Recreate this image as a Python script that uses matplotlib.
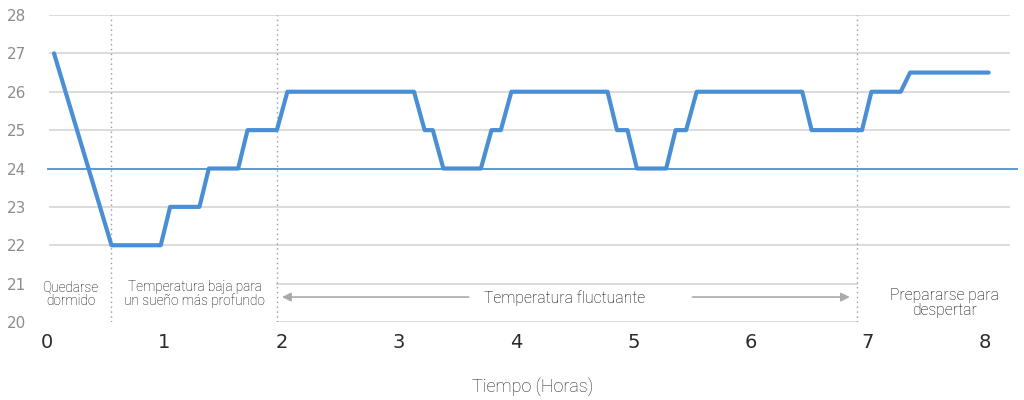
import matplotlib
matplotlib.use("Agg")
from matplotlib import pyplot as plt

# temperature profile (hours, degrees C)
horas = [0.06, 0.55, 0.97, 1.05, 1.30, 1.38, 1.63, 1.71, 1.96, 2.05,
         3.13, 3.22, 3.29, 3.38, 3.70, 3.79, 3.87, 3.96,
         4.78, 4.86, 4.95, 5.03, 5.28, 5.36, 5.45, 5.54,
         6.44, 6.52, 6.95, 7.03, 7.28, 7.36, 8.03]
temp = [27, 22, 22, 23, 23, 24, 24, 25, 25, 26,
        26, 25, 25, 24, 24, 25, 25, 26,
        26, 25, 25, 24, 24, 25, 25, 26,
        26, 25, 25, 26, 26, 26.5, 26.5]

referencia = 24
separadores = [0.55, 1.96, 6.91]
yticks = [20, 21, 22, 23, 24, 25, 26, 27, 28]
xticks = [0, 1, 2, 3, 4, 5, 6, 7, 8]
fases = ["Quedarse\ndormido", "Temperatura baja para\nun sueño más profundo",
         "Temperatura fluctuante", "Prepararse para\ndespertar"]
fase_x = [0.20, 1.26, 4.41, 7.65]

fig = plt.figure(figsize=(10.24, 4), dpi=100)
ax = fig.add_axes([47 / 1024, 1 - 322 / 400, (1018 - 47) / 1024, 307 / 400])
x0, x1 = 0.026, 8.28
ax.set_xlim(x0, x1)
ax.set_ylim(20, 28)

gris = "#d9d9d9"
for y in yticks:
    if y >= 22:
        ax.plot([x0, 8.2], [y, y], color=gris, lw=1.3, zorder=1)
    else:
        ax.plot([separadores[1], separadores[2]], [y, y], color=gris, lw=1.3, zorder=1)

for s in separadores:
    ax.axvline(s, color="#999999", lw=1, ls=(0, (1, 2.5)), zorder=1)

ax.axhline(referencia, color="#5b9bd5", lw=1.4, zorder=2)
ax.plot(horas, temp, color="#4a8fd4", lw=3, solid_joinstyle="round",
        solid_capstyle="round", zorder=3)

txt = dict(family=["Roboto", "DejaVu Sans"], fontweight="light", color="#000000",
           ha="center", va="center", linespacing=1.0)
ax.text(fase_x[0], 20.73, fases[0], fontsize=9.8, **txt)
ax.text(fase_x[1], 20.73, fases[1], fontsize=9.8, **txt)
ax.text(fase_x[2], 20.62, fases[2], fontsize=11.3, **txt)
ax.text(fase_x[3], 20.5, fases[3], fontsize=11.3, **txt)

flecha = dict(arrowstyle="-|>", color="#aaaaaa", lw=1.2, mutation_scale=13)
ax.annotate("", xy=(separadores[1] + 0.02, 20.65), xytext=(3.62, 20.65),
            arrowprops=flecha)
ax.annotate("", xy=(separadores[2] - 0.04, 20.65), xytext=(5.48, 20.65),
            arrowprops=flecha)

ax.set_yticks(yticks)
ax.set_xticks(xticks)
ax.tick_params(axis="y", length=0, pad=15, labelsize=11, labelcolor="#8c8c8c")
ax.tick_params(axis="x", length=0, pad=8, labelsize=14, labelcolor="#2b2b2b")
for s in ax.spines.values():
    s.set_visible(False)

ax.set_xlabel("Tiempo (Horas)", fontsize=13, color="#222222", labelpad=18,
              family=["Roboto", "DejaVu Sans"], fontweight="light")

fig.savefig("out.png", dpi=100)
